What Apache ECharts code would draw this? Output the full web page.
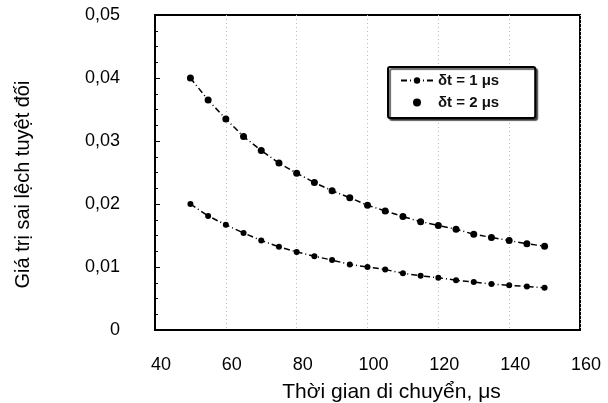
<!DOCTYPE html>
<html>
<head>
<meta charset="utf-8">
<script src="https://cdn.jsdelivr.net/npm/echarts@6/dist/echarts.min.js"></script>
<style>
  html, body { margin: 0; padding: 0; background: #fff; }
  #main { width: 608px; height: 403px; }
</style>
</head>
<body>
<div id="main"></div>
<script>
// thoi gian di chuyen (us)
var times = [50, 55, 60, 65, 70, 75, 80, 85, 90, 95, 100, 105, 110, 115, 120, 125, 130, 135, 140, 145, 150];
// delta t = 1 us
var err1 = [0.0200, 0.0181, 0.0167, 0.0154, 0.0142, 0.0132, 0.0124, 0.0117, 0.0111, 0.0104, 0.0100,
            0.0096, 0.0090, 0.0086, 0.0083, 0.0079, 0.0076, 0.0073, 0.0071, 0.0069, 0.0067];
// delta t = 2 us
var err2 = [0.0400, 0.0365, 0.0335, 0.0307, 0.0285, 0.0265, 0.0249, 0.0234, 0.0221, 0.0210, 0.0198,
            0.0189, 0.0180, 0.0172, 0.0166, 0.0160, 0.0152, 0.0147, 0.0142, 0.0137, 0.0133];
var names = ['δt = 1 μs', 'δt = 2 μs'];

function pairs(xs, ys) {
    var out = [];
    for (var i = 0; i < xs.length; i++) out.push([xs[i], ys[i]]);
    return out;
}

var myChart = echarts.init(document.getElementById('main'));
var font = 'Liberation Sans, Arial, sans-serif';

var option = {
    animation: false,
    backgroundColor: '#fff',
    textStyle: { fontFamily: font, color: '#000' },
    grid: {
        left: 155, right: 28, top: 15, bottom: 73,
        outerBoundsMode: 'none',
        containLabel: false,
        show: true, borderColor: '#000', borderWidth: 2
    },
    legend: {
        orient: 'vertical',
        left: 388, top: 67,
        itemGap: 7,
        itemWidth: 32, itemHeight: 8,
        padding: [6, 36, 8, 12],
        borderColor: '#000', borderWidth: 2, borderRadius: 2,
        backgroundColor: '#fff',
        shadowColor: 'rgba(0,0,0,0.6)', shadowOffsetX: 2, shadowOffsetY: 2, shadowBlur: 1,
        textStyle: { fontFamily: font, fontSize: 15, fontWeight: 'bold', color: '#111' },
        data: [{ name: names[0] }, { name: names[1], icon: 'circle' }]
    },
    xAxis: {
        type: 'value',
        min: 40, max: 160, interval: 20,
        name: 'Thời gian di chuyển, μs',
        nameLocation: 'middle', nameGap: 52,
        nameTextStyle: { fontSize: 21, color: '#000', padding: [0, 0, 0, 48] },
        axisLine: { lineStyle: { color: '#000', width: 2 } },
        axisTick: { show: false },
        axisLabel: { fontSize: 18, color: '#000', margin: 26, padding: [0, 0, 0, 12] },
        splitLine: { show: true, lineStyle: { color: '#bbb', type: [1, 3], width: 1 } }
    },
    yAxis: {
        type: 'value',
        min: 0, max: 0.05, interval: 0.01,
        name: 'Giá trị sai lệch tuyệt đối',
        nameLocation: 'middle', nameGap: 122,
        nameTextStyle: { fontSize: 20, color: '#000', padding: [0, 24, 0, 0] },
        axisLine: { lineStyle: { color: '#000', width: 2 } },
        axisTick: { show: true, inside: true, length: 5, lineStyle: { color: '#000' } },
        minorTick: { show: true, splitNumber: 4, length: 3, lineStyle: { color: '#000' } },
        axisLabel: {
            fontSize: 18, color: '#000', margin: 35, padding: [6, 0, 0, 0],
            formatter: function (v) { return v === 0 ? '0' : v.toFixed(2).replace('.', ','); }
        },
        splitLine: { show: false }
    },
    series: [
        {
            name: names[0],
            type: 'line',
            data: pairs(times, err1),
            symbol: 'circle', symbolSize: 6,
            itemStyle: { color: '#000' },
            lineStyle: { color: '#000', width: 1.5, type: [6, 3, 1, 3] }
        },
        {
            name: names[1],
            type: 'line',
            data: pairs(times, err2),
            symbol: 'circle', symbolSize: 7,
            itemStyle: { color: '#000' },
            lineStyle: { color: '#000', width: 1.5, type: [6, 3, 1, 3] }
        }
    ]
};

myChart.setOption(option);
</script>
</body>
</html>
